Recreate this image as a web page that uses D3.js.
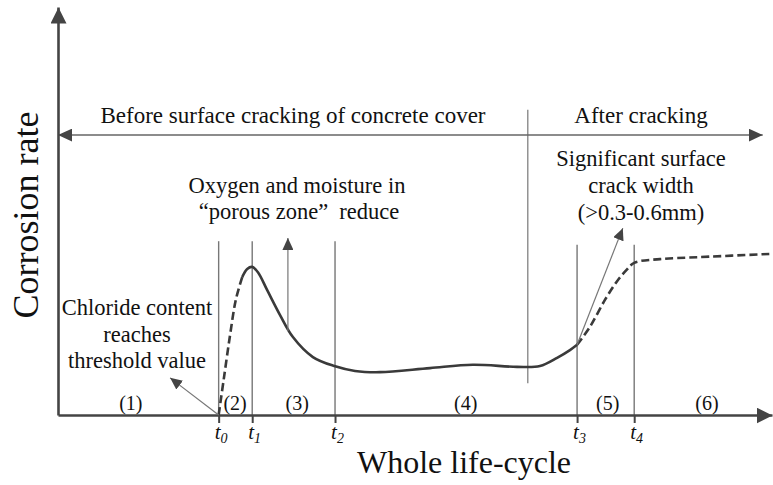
<!DOCTYPE html>
<html>
<head>
<meta charset="utf-8">
<script src="https://cdn.jsdelivr.net/npm/d3@7"></script>
<style>
  body { margin: 0; background: #fff; }
  svg { display: block; }
  text { font-family: "Liberation Serif", "Times New Roman", serif; fill: #111; }
</style>
</head>
<body>
<div id="chart"></div>
<script>
// Phase boundaries t0..t4 on the life-cycle axis (0-100)
const phaseTimes = [22.5, 27.2, 38.8, 72.7, 80.7];
const phaseTickLabels = ["0", "1", "2", "3", "4"];
const phaseNames = ["(1)", "(2)", "(3)", "(4)", "(5)", "(6)"];
const phaseNameAt = [10.2, 24.8, 33.5, 57.1, 77.0, 90.9];
const crackingTime = 65.8;

// Corrosion rate curve, split into dashed / solid / dashed parts
const initiationRise = [[22.5, 0], [23.2, 8.6], [24.1, 19.6], [24.9, 28.2], [25.8, 33.8]];
const measuredRate = [
    [25.8, 33.8], [26.5, 35.8], [27.2, 36.3], [28.0, 35.0], [29.3, 30.6], [31.1, 24.5],
    [32.9, 19.1], [35.7, 14.2], [38.7, 12.0], [41.6, 10.8], [45.1, 10.5], [52.1, 11.5],
    [58.1, 12.3], [64.3, 11.8], [67.5, 12.0], [69.9, 14.0], [71.7, 15.9], [72.7, 17.2]
];
const crackingRise = [
    [72.7, 17.2], [74.5, 21.6], [76.6, 28.2], [78.3, 32.8], [79.6, 35.5], [80.7, 37.3],
    [84.3, 38.2], [89.9, 38.7], [100, 39.5]
];

const width = 773, height = 485;
const x = d3.scaleLinear().domain([0, 100]).range([58, 772]);
const y = d3.scaleLinear().domain([0, 100]).range([415, 7]);

const svg = d3.select("#chart").append("svg")
    .attr("width", width)
    .attr("height", height);

// arrow heads
const defs = svg.append("defs");
function arrowMarker(id, len, half, color, orient) {
    defs.append("marker")
        .attr("id", id)
        .attr("markerUnits", "userSpaceOnUse")
        .attr("viewBox", `0 ${-half} ${len} ${half * 2}`)
        .attr("refX", len)
        .attr("refY", 0)
        .attr("markerWidth", len)
        .attr("markerHeight", half * 2)
        .attr("orient", orient || "auto")
        .append("path")
        .attr("d", `M0,${-half}L${len},0L0,${half}Z`)
        .attr("fill", color);
}
arrowMarker("axisHead", 16, 8, "#444");
arrowMarker("spanHead", 14, 6.5, "#444", "auto-start-reverse");
arrowMarker("noteHead", 12, 5.5, "#444");

// phase boundary lines
svg.append("g").selectAll("line")
    .data(phaseTimes)
    .join("line")
    .attr("x1", d => x(d)).attr("x2", d => x(d))
    .attr("y1", y(0)).attr("y2", (d, i) => y(i < 3 ? 42.6 : 41.7))
    .attr("stroke", "#777")
    .attr("stroke-width", 1.4);

// cracking separator
svg.append("line")
    .attr("x1", x(crackingTime)).attr("x2", x(crackingTime))
    .attr("y1", y(7.8)).attr("y2", y(74.8))
    .attr("stroke", "#777")
    .attr("stroke-width", 1.2);

// double-headed span arrow
svg.append("line")
    .attr("x1", x(0)).attr("x2", x(98.7))
    .attr("y1", y(68.6)).attr("y2", y(68.6))
    .attr("stroke", "#666")
    .attr("stroke-width", 1.5)
    .attr("marker-start", "url(#spanHead)")
    .attr("marker-end", "url(#spanHead)");

// axes
const xAxis = svg.append("g")
    .attr("transform", `translate(0,${y(0)})`)
    .call(d3.axisBottom(x).tickValues(phaseTimes).tickFormat("").tickSize(8).tickSizeOuter(0));
const yAxis = svg.append("g")
    .attr("transform", `translate(${x(0)},0)`)
    .call(d3.axisLeft(y).tickValues([]).tickSizeOuter(0));
[xAxis, yAxis].forEach(a => {
    a.select(".domain")
        .attr("stroke", "#444")
        .attr("stroke-width", 2.6)
        .attr("marker-end", "url(#axisHead)");
    a.selectAll(".tick line").attr("stroke", "#444").attr("stroke-width", 2);
});

// curve
const line = d3.line()
    .x(d => x(d[0]))
    .y(d => y(d[1]))
    .curve(d3.curveCatmullRom.alpha(0.5));

svg.append("path")
    .attr("d", line(initiationRise))
    .attr("fill", "none")
    .attr("stroke", "#3a3a3a")
    .attr("stroke-width", 2.6)
    .attr("stroke-dasharray", "8,4");
svg.append("path")
    .attr("d", line(measuredRate))
    .attr("fill", "none")
    .attr("stroke", "#3a3a3a")
    .attr("stroke-width", 2.6);
svg.append("path")
    .attr("d", line(crackingRise))
    .attr("fill", "none")
    .attr("stroke", "#3a3a3a")
    .attr("stroke-width", 2.6)
    .attr("stroke-dasharray", "8,4");

// annotation arrows
const noteArrows = [
    [[32.2, 20.6], [32.2, 43.4]],
    [[22.5, 0], [15.7, 9.1]],
    [[72.7, 17.2], [79.1, 45.8]]
];
svg.append("g").selectAll("line")
    .data(noteArrows)
    .join("line")
    .attr("x1", d => x(d[0][0])).attr("y1", d => y(d[0][1]))
    .attr("x2", d => x(d[1][0])).attr("y2", d => y(d[1][1]))
    .attr("stroke", "#777")
    .attr("stroke-width", 1.2)
    .attr("marker-end", "url(#noteHead)");

// phase names
svg.append("g").selectAll("text")
    .data(phaseNames)
    .join("text")
    .attr("x", (d, i) => x(phaseNameAt[i]))
    .attr("y", 410)
    .attr("text-anchor", "middle")
    .attr("font-size", 20)
    .text(d => d);

// t labels
const tLabels = svg.append("g").selectAll("text")
    .data(phaseTimes)
    .join("text")
    .attr("x", d => x(d) - 4)
    .attr("y", 439)
    .attr("font-style", "italic");
tLabels.append("tspan").attr("font-size", 21).text("t");
tLabels.append("tspan").attr("font-size", 14).attr("dy", 4).text((d, i) => phaseTickLabels[i]);

// axis titles
svg.append("text")
    .attr("transform", "translate(38,215) rotate(-90)")
    .attr("text-anchor", "middle")
    .attr("font-size", 36)
    .text("Corrosion rate");
svg.append("text")
    .attr("x", 464).attr("y", 473)
    .attr("text-anchor", "middle")
    .attr("font-size", 32)
    .text("Whole life-cycle");

// period labels
svg.append("text")
    .attr("x", 293).attr("y", 123)
    .attr("text-anchor", "middle")
    .attr("font-size", 23)
    .text("Before surface cracking of concrete cover");
svg.append("text")
    .attr("x", 641).attr("y", 123)
    .attr("text-anchor", "middle")
    .attr("font-size", 23)
    .text("After cracking");

// notes
function note(lines, cx, y0, dy) {
    const t = svg.append("text")
        .attr("text-anchor", "middle")
        .attr("font-size", 22.5);
    lines.forEach((l, i) => {
        t.append("tspan").attr("x", cx).attr("y", y0 + i * dy).text(l);
    });
    return t;
}
note(["Significant surface", "crack width", "(>0.3-0.6mm)"], 641, 166, 27);
note(["Chloride content", "reaches", "threshold value"], 137, 315, 26.5);
note(["Oxygen and moisture in"], 297, 193, 0);

const oxy2 = svg.append("text")
    .attr("x", 299).attr("y", 219)
    .attr("text-anchor", "middle")
    .attr("font-size", 22.5);
oxy2.append("tspan").text("\u201cporous zone\u201d");
oxy2.append("tspan").attr("dx", 11).text("reduce");
</script>
</body>
</html>
